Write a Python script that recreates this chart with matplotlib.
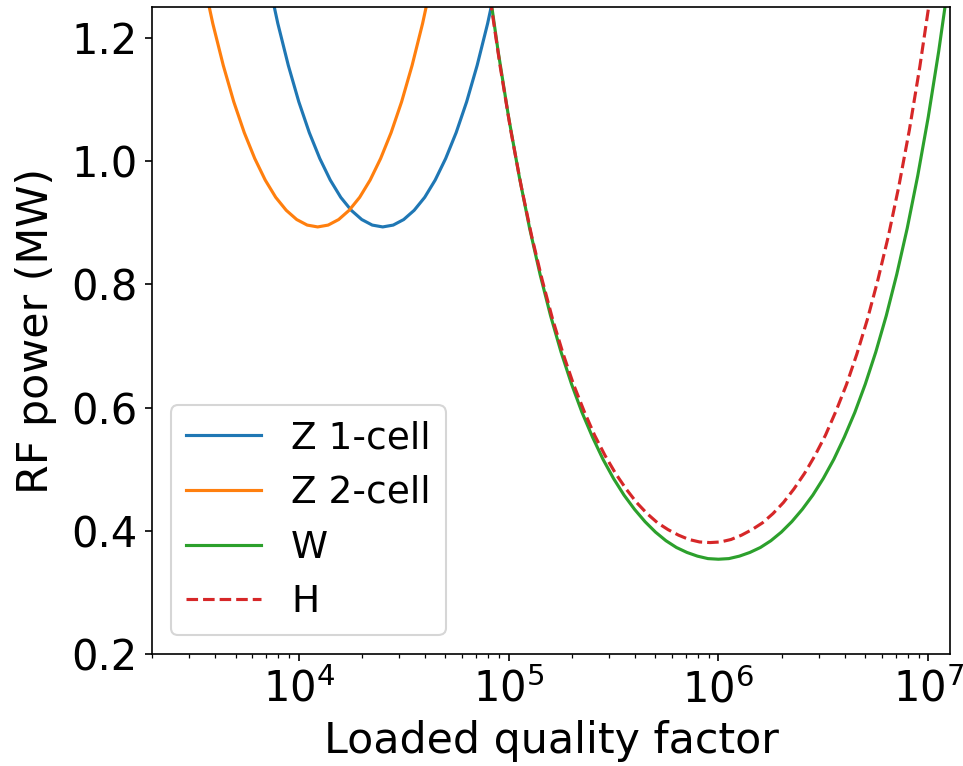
import numpy as np
import matplotlib
matplotlib.use("Agg")
import matplotlib.pyplot as plt

# values (log10 of loaded Q, power in MW)
z1_logq = [3.85, 3.90, 3.95, 4.00, 4.05, 4.10, 4.15, 4.20, 4.25, 4.30, 4.35, 4.40,
           4.45, 4.50, 4.55, 4.60, 4.65, 4.70, 4.75, 4.80, 4.85, 4.90, 4.95]
z1_power = [1.302, 1.223, 1.155, 1.096, 1.046, 1.004, 0.969, 0.941, 0.920, 0.905, 0.896, 0.893,
            0.896, 0.905, 0.920, 0.941, 0.969, 1.004, 1.046, 1.096, 1.155, 1.223, 1.302]

z2_logq = [3.54, 3.59, 3.64, 3.69, 3.74, 3.79, 3.84, 3.89, 3.94, 3.99, 4.04, 4.09,
           4.14, 4.19, 4.24, 4.29, 4.34, 4.39, 4.44, 4.49, 4.54, 4.59, 4.64]
z2_power = [1.302, 1.223, 1.155, 1.096, 1.046, 1.004, 0.969, 0.941, 0.920, 0.905, 0.896, 0.893,
            0.896, 0.905, 0.920, 0.941, 0.969, 1.004, 1.046, 1.096, 1.155, 1.223, 1.302]

w_logq = [4.90, 4.95, 5.00, 5.05, 5.10, 5.15, 5.20, 5.25, 5.30, 5.35, 5.40, 5.45,
          5.50, 5.55, 5.60, 5.65, 5.70, 5.75, 5.80, 5.85, 5.90, 5.95, 6.00,
          6.05, 6.10, 6.15, 6.20, 6.25, 6.30, 6.35, 6.40, 6.45, 6.50, 6.55,
          6.60, 6.65, 6.70, 6.75, 6.80, 6.85, 6.90, 6.95, 7.00, 7.05, 7.10]
w_power = [1.298, 1.178, 1.071, 0.976, 0.891, 0.816, 0.749, 0.690, 0.638, 0.592, 0.552, 0.516,
           0.485, 0.458, 0.435, 0.415, 0.398, 0.384, 0.373, 0.365, 0.359, 0.355, 0.354,
           0.355, 0.359, 0.365, 0.373, 0.384, 0.398, 0.415, 0.435, 0.458, 0.485, 0.516,
           0.552, 0.592, 0.638, 0.690, 0.749, 0.816, 0.891, 0.976, 1.071, 1.178, 1.298]

h_logq = [4.86, 4.91, 4.96, 5.01, 5.06, 5.11, 5.16, 5.21, 5.26, 5.31, 5.36, 5.41,
          5.46, 5.51, 5.56, 5.61, 5.66, 5.71, 5.76, 5.81, 5.86, 5.91, 5.96,
          6.01, 6.06, 6.11, 6.16, 6.21, 6.26, 6.31, 6.36, 6.41, 6.46, 6.51,
          6.56, 6.61, 6.66, 6.71, 6.76, 6.81, 6.86, 6.91, 6.96, 7.01, 7.06]
h_power = [1.397, 1.268, 1.153, 1.050, 0.959, 0.878, 0.807, 0.743, 0.687, 0.637, 0.594, 0.555,
           0.522, 0.493, 0.468, 0.446, 0.428, 0.413, 0.402, 0.393, 0.386, 0.382, 0.381,
           0.382, 0.386, 0.393, 0.402, 0.413, 0.428, 0.446, 0.468, 0.493, 0.522, 0.555,
           0.594, 0.637, 0.687, 0.743, 0.807, 0.878, 0.959, 1.050, 1.153, 1.268, 1.397]

labels = ["Z 1-cell", "Z 2-cell", "W", "H"]

plt.rcParams['font.size'] = 20
fig, ax = plt.subplots(figsize=(6.42, 5.107), dpi=150)
fig.subplots_adjust(left=0.158, right=0.9865, bottom=0.146, top=0.991)

ax.plot(10**np.array(z1_logq), z1_power, color='tab:blue', label=labels[0])
ax.plot(10**np.array(z2_logq), z2_power, color='tab:orange', label=labels[1])
ax.plot(10**np.array(w_logq), w_power, color='tab:green', label=labels[2])
ax.plot(10**np.array(h_logq), h_power, color='tab:red', linestyle='--', label=labels[3])

ax.set_xscale('log')
ax.set_xlim(2.0e3, 1.27e7)
ax.set_ylim(0.2, 1.25)
ax.set_yticks([0.2, 0.4, 0.6, 0.8, 1.0, 1.2])
ax.set_xlabel('Loaded quality factor', fontsize=20.5)
ax.set_ylabel('RF power (MW)', fontsize=20.5, labelpad=7)
ax.legend(loc='lower left', fontsize=18)

fig.savefig('out.png', dpi=150)
